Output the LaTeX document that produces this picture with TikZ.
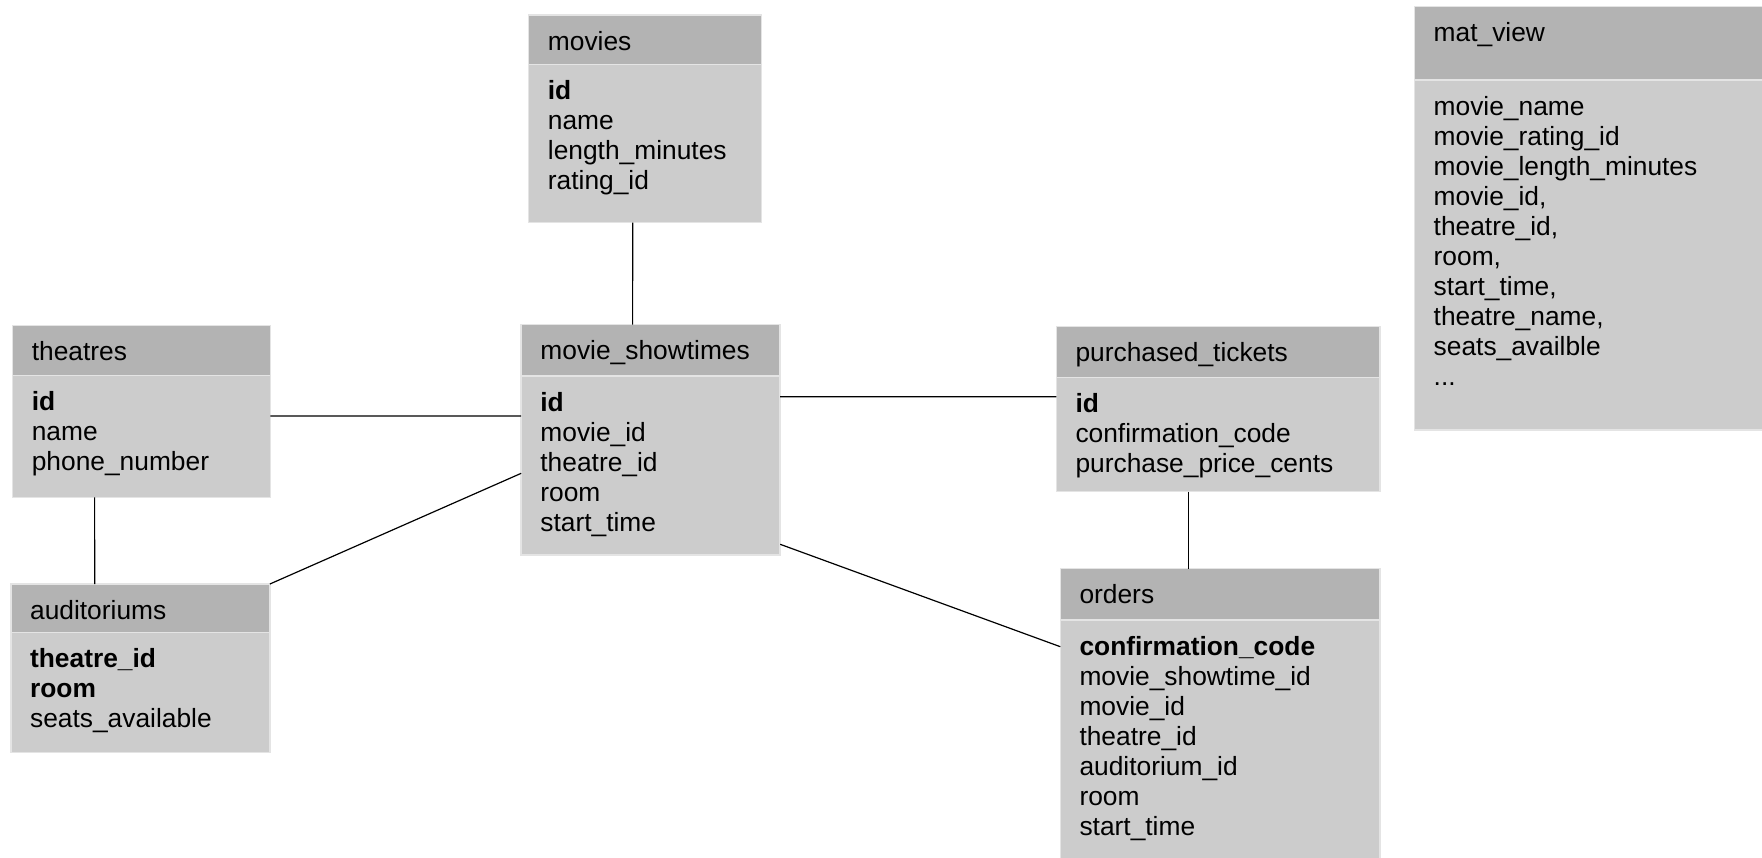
\documentclass[tikz,border=0pt]{standalone}
\usepackage{fontspec}
\setmainfont{Liberation Sans}
\usetikzlibrary{positioning, calc}
\definecolor{inkcolor}{HTML}{000000}
\definecolor{headfill}{HTML}{B3B3B3}
\definecolor{bodyfill}{HTML}{CCCCCC}
\definecolor{edgeline}{HTML}{E4E4E4}

% #1 name, #2 x, #3 y (top), #4 width, #5 header height, #6 body height, #7 title, #8 fields
\newcommand{\dbtable}[8]{
  \node[tablehead, minimum width=#4pt, minimum height=#5pt] (#1) at (#2,#3) {};
  \node[tablebody, minimum width=#4pt, minimum height=#6pt] (#1-body) at (#1.south west) {};
  \node[tabletext] at ([shift={(19pt,-14pt)}]#1.north west) {\strut #7};
  \node[tabletext] at ([shift={(19pt,-14pt)}]#1-body.north west) {\strut #8};
}

\begin{document}
\begin{tikzpicture}[
  x=1pt, y=-1pt,
  every node/.style={font=\fontsize{26.35pt}{30pt}\selectfont},
]

\tikzset{
  tablehead/.style={rectangle, fill=headfill, draw=edgeline, line width=1.5pt,
    anchor=north west, inner sep=0pt, outer sep=0pt},
  tablebody/.style={rectangle, fill=bodyfill, draw=edgeline, line width=1.5pt,
    anchor=north west, inner sep=0pt, outer sep=0pt},
  tabletext/.style={anchor=north west, inner sep=0pt, align=left, text=inkcolor},
  relation/.style={draw=inkcolor, line width=1.2pt},
}

\useasboundingbox (0,0) rectangle (1762,857);

% ---------------------------------------------------------------
% Tables
% ---------------------------------------------------------------
\dbtable{movies}{528.7}{15}{233}{49.5}{158}{movies}
  {\textbf{id}\\name\\length\_minutes\\rating\_id}
\dbtable{theatres}{12.6}{325.7}{257.8}{50}{121.6}{theatres}
  {\textbf{id}\\name\\phone\_number}
\dbtable{showtimes}{521.2}{324.7}{259}{51.3}{179}{movie\_showtimes}
  {\textbf{id}\\movie\_id\\theatre\_id\\room\\start\_time}
\dbtable{auditoriums}{10.9}{584}{259}{48.7}{119.6}{auditoriums}
  {\textbf{theatre\_id}\\\textbf{room}\\seats\_available}
\dbtable{purchased}{1056.3}{326.7}{323.7}{50.6}{114.4}{purchased\_tickets}
  {\textbf{id}\\confirmation\_code\\purchase\_price\_cents}
\dbtable{orders}{1060.3}{568.7}{319.7}{51.3}{240}{orders}
  {\textbf{confirmation\_code}\\movie\_showtime\_id\\movie\_id\\theatre\_id\\auditorium\_id\\room\\start\_time}
\dbtable{matview}{1414.5}{6.7}{350}{73.3}{350}{mat\_view}
  {movie\_name\\movie\_rating\_id\\movie\_length\_minutes\\movie\_id,\\theatre\_id,\\room,\\start\_time,\\theatre\_name,\\seats\_availble\\...}

% ---------------------------------------------------------------
% Relations
% ---------------------------------------------------------------
\draw[relation] ([xshift=104pt]movies-body.south west) -- ([xshift=111.4pt]showtimes.north west);
\draw[relation] ([yshift=-40.3pt]theatres-body.north east) -- ([yshift=-40pt]showtimes-body.north west);
\draw[relation] ([yshift=-20.7pt]showtimes-body.north east) -- ([yshift=-19.4pt]purchased-body.north west);
\draw[relation] ([xshift=82pt]theatres-body.south west) -- ([xshift=83.8pt]auditoriums.north west);
\draw[relation] (auditoriums.north east) -- ([yshift=-97.3pt]showtimes-body.north west);
\draw[relation] ([yshift=10.7pt]showtimes-body.south east) -- ([yshift=-26.7pt]orders-body.north west);
\draw[relation] ([xshift=132pt]purchased-body.south west) -- ([xshift=128pt]orders.north west);

\end{tikzpicture}
\end{document}
